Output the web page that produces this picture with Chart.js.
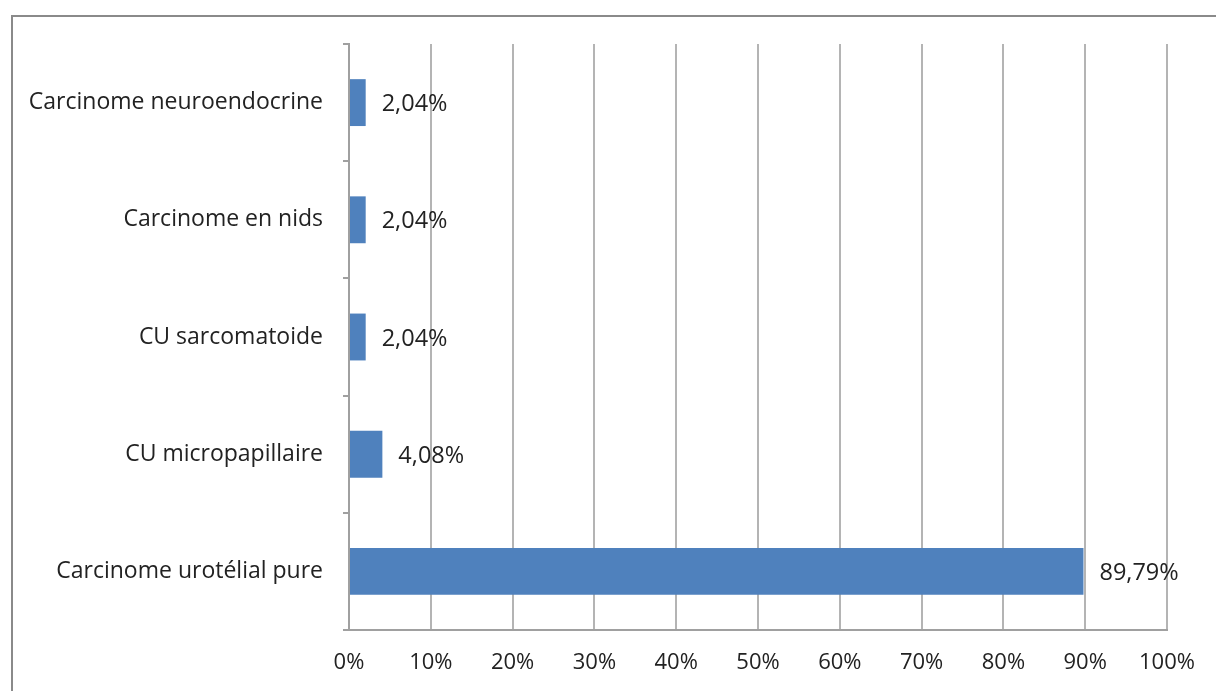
<!DOCTYPE html>
<html>
<head>
<meta charset="utf-8">
<script src="https://cdn.jsdelivr.net/npm/chart.js@4/dist/chart.umd.min.js"></script>
<style>
  html, body { margin: 0; padding: 0; background: #fff; overflow: hidden; }
  #wrap { position: relative; width: 1216px; height: 691px; }
  #frame { position: absolute; left: 11px; top: 15px; width: 1400px; height: 900px; border: 2px solid #8a8a8a; box-sizing: border-box; }
  canvas { position: absolute; left: 0; top: 0; }
</style>
</head>
<body>
<div id="wrap">
  <div id="frame"></div>
  <canvas id="chart" width="1216" height="691"></canvas>
</div>
<script>
// categories top -> bottom
var categories = ['Carcinome neuroendocrine', 'Carcinome en nids', 'CU sarcomatoide', 'CU micropapillaire', 'Carcinome urotélial pure'];
var values = [2.04, 2.04, 2.04, 4.08, 89.79];
var xTicks = [0, 10, 20, 30, 40, 50, 60, 70, 80, 90, 100];

var fontFamily = '"Open Sans", Lato, sans-serif';

// étiquettes de valeur à droite des barres
var valueLabels = {
    id: 'valueLabels',
    afterDatasetsDraw: function (chart) {
        var ctx = chart.ctx;
        var meta = chart.getDatasetMeta(0);
        ctx.save();
        ctx.font = '23.5px ' + fontFamily;
        ctx.fillStyle = '#222222';
        ctx.textAlign = 'left';
        ctx.textBaseline = 'middle';
        meta.data.forEach(function (bar, i) {
            var txt = values[i].toFixed(2).replace('.', ',') + '%';
            ctx.fillText(txt, bar.x + 16, bar.y + 2);
        });
        ctx.restore();
    }
};

var ctx = document.getElementById('chart').getContext('2d');
var chart = new Chart(ctx, {
    type: 'bar',
    data: {
        labels: categories,
        datasets: [{
            data: values,
            backgroundColor: '#4f81bd',
            borderWidth: 0,
            barPercentage: 0.4,
            categoryPercentage: 1
        }]
    },
    options: {
        indexAxis: 'y',
        responsive: false,
        animation: false,
        layout: { padding: { top: 44, right: 49, left: 0, bottom: 0 } },
        plugins: {
            legend: { display: false },
            tooltip: { enabled: false }
        },
        scales: {
            x: {
                min: 0,
                max: 100,
                afterBuildTicks: function (scale) {
                    scale.ticks = xTicks.map(function (v) { return { value: v }; });
                },
                afterFit: function (scale) { scale.height = 61; },
                grid: {
                    color: '#b4b4b4',
                    lineWidth: 2,
                    drawTicks: false
                },
                border: { color: '#a0a0a0', width: 2 },
                ticks: {
                    padding: 20,
                    color: '#222222',
                    font: { family: fontFamily, size: 22 },
                    maxRotation: 0,
                    callback: function (v) { return v + '%'; }
                }
            },
            y: {
                offset: true,
                afterFit: function (scale) { scale.width = 349; },
                grid: {
                    offset: true,
                    drawOnChartArea: false,
                    drawTicks: true,
                    tickLength: 6,
                    color: '#a0a0a0',
                    lineWidth: 2
                },
                border: { color: '#a0a0a0', width: 2 },
                ticks: {
                    padding: 20,
                    color: '#222222',
                    font: { family: fontFamily, size: 23 }
                }
            }
        }
    },
    plugins: [valueLabels]
});
</script>
</body>
</html>
